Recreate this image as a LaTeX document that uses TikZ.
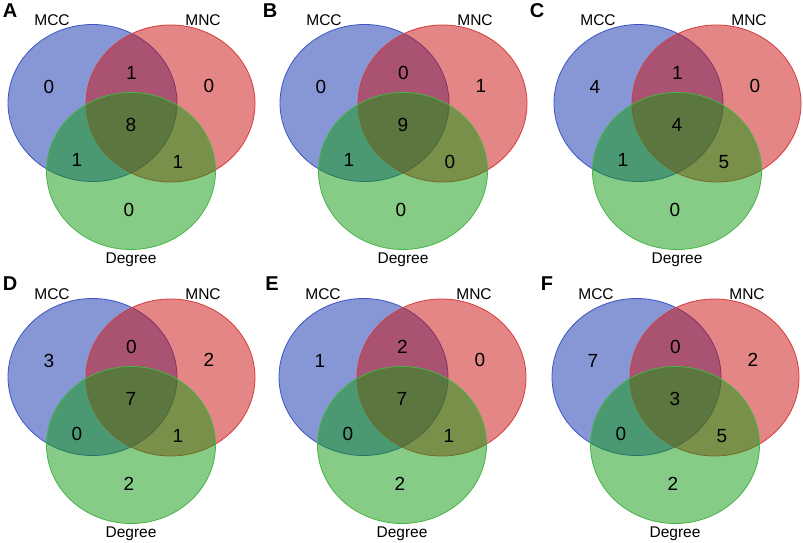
\documentclass[tikz,border=0pt]{standalone}
\usepackage{fontspec}
\setmainfont{Liberation Sans}
\usetikzlibrary{shapes.geometric}
\definecolor{vblue}{RGB}{17,49,175}
\definecolor{vred}{RGB}{205,15,15}
\definecolor{vgreen}{RGB}{15,155,15}
\definecolor{vblueline}{RGB}{60,85,195}
\definecolor{vredline}{RGB}{215,60,60}
\definecolor{vgreenline}{RGB}{70,180,70}
\tikzset{
  vset/.style={ellipse, fill opacity=0.5, draw opacity=1, line width=0.8pt,
    minimum width=169pt, minimum height=157pt, inner sep=0pt},
  setblue/.style={vset, draw=vblueline, fill=vblue},
  setred/.style={vset, draw=vredline, fill=vred},
  setgreen/.style={vset, draw=vgreenline, fill=vgreen},
  lab/.style={font=\fontsize{15.5}{18}\selectfont, inner sep=0pt, anchor=base},
  num/.style={font=\fontsize{19}{22}\selectfont, inner sep=0pt},
  panel/.style={font=\fontsize{20}{24}\selectfont\bfseries, inner sep=0pt},
}
\newcommand\vennpanel[8]{%
  \node[setblue] (#1-mcc) at (92.5,103) {};
  \node[setred] (#1-mnc) at (170.5,103.5) {};
  \node[setgreen] (#1-deg) at (131,171) {};
  \node[lab] (#1-lmcc) at (52,25.7) {MCC};
  \node[lab] (#1-lmnc) at (203,25.7) {MNC};
  \node[lab] (#1-ldeg) at (131,263) {Degree};
  \node[num] (#1-a) at (49,87) {#2};
  \node[num] (#1-ab) at (131.5,73) {#3};
  \node[num] (#1-b) at (209,86) {#4};
  \node[num] (#1-abc) at (131,125) {#5};
  \node[num] (#1-ac) at (77,160) {#6};
  \node[num] (#1-bc) at (178,162) {#7};
  \node[num] (#1-c) at (129,210) {#8};
}
\begin{document}
\begin{tikzpicture}[x=1pt,y=-1pt]
  \useasboundingbox[fill=white] (0,0) rectangle (803,543);
  \begin{scope}[shift={(0,0)}]\vennpanel{A}{0}{1}{0}{8}{1}{1}{0}\end{scope}
  \begin{scope}[shift={(272,0)}]\vennpanel{B}{0}{0}{1}{9}{1}{0}{0}\end{scope}
  \begin{scope}[shift={(546,0)}]\vennpanel{C}{4}{1}{0}{4}{1}{5}{0}\end{scope}
  \begin{scope}[shift={(0,274)}]\vennpanel{D}{3}{0}{2}{7}{0}{1}{2}\end{scope}
  \begin{scope}[shift={(271,274)}]\vennpanel{E}{1}{2}{0}{7}{0}{1}{2}\end{scope}
  \begin{scope}[shift={(544,274)}]\vennpanel{F}{7}{0}{2}{3}{0}{5}{2}\end{scope}
  \node[panel] (lA) at (10,11) {A};
  \node[panel] (lB) at (270,11) {B};
  \node[panel] (lC) at (537,11) {C};
  \node[panel] (lD) at (10,284) {D};
  \node[panel] (lE) at (272,284) {E};
  \node[panel] (lF) at (547,284) {F};
\end{tikzpicture}
\end{document}
